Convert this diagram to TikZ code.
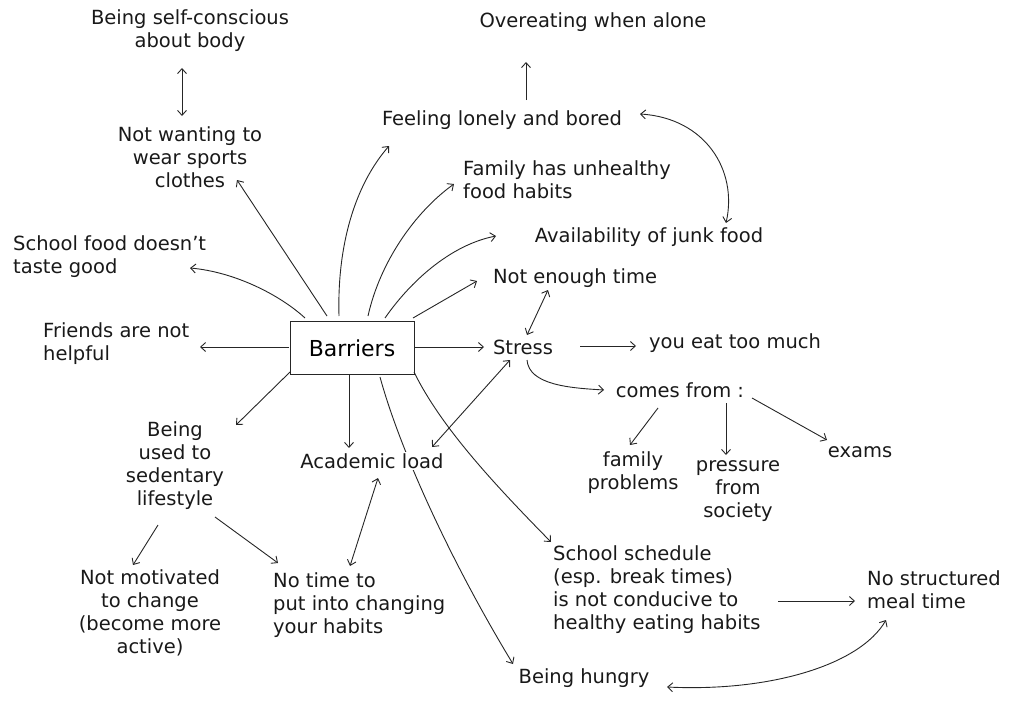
\documentclass[tikz,border=0pt]{standalone}
\usepackage{fontspec}
\setmainfont{DejaVu Sans}
\usetikzlibrary{arrows.meta}
\pgfdeclarelayer{behind}
\pgfsetlayers{behind,main}
\tikzset{
  lbl/.style={font=\fontsize{19.5}{23}\selectfont, inner sep=1pt, text=black!90},
  lblL/.style={lbl, align=left, anchor=west},
  lblC/.style={lbl, align=center},
  conn/.style={line width=0.9pt, draw=black!85, -{Straight Barb[length=5pt,width=9pt]}},
  dconn/.style={line width=0.9pt, draw=black!85, {Straight Barb[length=5pt,width=9pt]}-{Straight Barb[length=5pt,width=9pt]}},
  boxnode/.style={draw=black!85, line width=0.9pt, minimum width=124pt, minimum height=53pt, font=\fontsize{22}{24}\selectfont}
}
\begin{document}
\begin{tikzpicture}[x=1pt,y=-1pt]
\useasboundingbox (0,0) rectangle (1025,701);
% nodes
\node[lblC] (self) at (190,31) {Being self-conscious\\about body};
\node[lblC] (over) at (593,22) {Overeating when alone};
\node[lblC] (lonely) at (502,120) {Feeling lonely and bored};
\node[lblC] (notwant) at (190,157) {Not wanting to\\wear sports\\clothes};
\node[lblL] (family) at (462,180) {Family has unhealthy\\ food habits};
\node[lblC] (avail) at (649,237) {Availability of junk food};
\node[lblL] (schoolfood) at (12,257) {School food doesn't\\taste good};
\node[lblC] (enough) at (575,278) {Not enough time};
\node[lblL] (friends) at (42,344) {Friends are not\\helpful};
\node[boxnode] (barriers) at (352,348) {Barriers};
\node[lblC] (stress) at (523,347) {Stress};
\node[lblC] (eat) at (735,343) {you eat too much};
\node[lblC] (comes) at (680,390) {comes from :};
\node[lblC] (famprob) at (633,473) {family\\problems};
\node[lblC] (pressure) at (738,491) {pressure\\from\\society};
\node[lblC] (exams) at (860,452) {exams};
\node[lblC] (used) at (175,466) {Being\\used to\\sedentary\\lifestyle};
\node[lblC, fill=white] (academic) at (372,461) {Academic load};
\node[lblC] (notmot) at (150,613) {Not motivated\\to change\\(become more\\active)};
\node[lblL] (notimeto) at (272,605) {No time to\\put into changing\\your habits};
\node[lblL] (schedule) at (552,590) {School schedule\\(esp. break times)\\ is not conducive to\\ healthy eating habits};
\node[lblL] (nostruct) at (866,590) {No structured\\meal time};
\node[lblC] (hungry) at (584,678) {Being hungry};
% connectors
\draw[dconn] ([shift={(-8,37)}]self.center) -- ([shift={(-8,-41)}]notwant.center);
\draw[conn] ([shift={(24,-20)}]lonely.center) -- ([shift={(-67,40)}]over.center);
\draw[dconn] ([shift={(138,-6)}]lonely.center) .. controls (705,118) and (738,170) .. ([shift={(77,-14)}]avail.center);
\draw[conn] ([shift={(-47,-30)}]barriers.center) .. controls (280,295) and (235,272) .. ([shift={(178,11)}]schoolfood.west);
\draw[conn] ([shift={(-25,-32)}]barriers.center) -- ([shift={(47,23)}]notwant.center);
\draw[conn] ([shift={(-13,-32)}]barriers.center) .. controls (337,245) and (355,185) .. ([shift={(-113,26)}]lonely.center);
\draw[conn] ([shift={(16,-32)}]barriers.center) .. controls (380,262) and (415,212) .. ([shift={(-8,4)}]family.west);
\draw[conn] ([shift={(33,-30)}]barriers.center) .. controls (410,282) and (450,245) .. ([shift={(-153,-1)}]avail.center);
\draw[conn] ([shift={(61,-30)}]barriers.center) -- ([shift={(-98,3)}]enough.center);
\draw[conn] ([shift={(-63,-1)}]barriers.center) -- ([shift={(158,3)}]friends.west);
\draw[conn] ([shift={(63,-1)}]barriers.center) -- ([shift={(-39,0)}]stress.center);
\draw[dconn] ([shift={(-27,12)}]enough.center) -- ([shift={(4,-12)}]stress.center);
\draw[conn] ([shift={(57,-1)}]stress.center) -- ([shift={(-99,3)}]eat.center);
\draw[conn] ([shift={(4,13)}]stress.center) .. controls (529,385) and (570,388) .. ([shift={(-76,0)}]comes.center);
\draw[conn] ([shift={(-22,18)}]comes.center) -- ([shift={(-3,-28)}]famprob.center);
\draw[conn] ([shift={(46,13)}]comes.center) -- ([shift={(-12,-36)}]pressure.center);
\draw[conn] ([shift={(72,8)}]comes.center) -- ([shift={(-33,-12)}]exams.center);
\draw[conn] ([shift={(-62,24)}]barriers.center) -- ([shift={(61,-41)}]used.center);
\draw[conn] ([shift={(-3,27)}]barriers.center) -- ([shift={(-23,-13)}]academic.center);
\draw[dconn] ([shift={(-13,13)}]stress.center) -- ([shift={(60,-14)}]academic.center);
\draw[conn] ([shift={(-17,59)}]used.center) -- ([shift={(-17,-48)}]notmot.center);
\draw[conn] ([shift={(40,51)}]used.center) -- ([shift={(6,-42)}]notimeto.west);
\draw[dconn] ([shift={(78,-39)}]notimeto.west) -- ([shift={(6,17)}]academic.center);
\begin{pgfonlayer}{behind}
\draw[conn] ([shift={(28,29)}]barriers.center) .. controls (400,450) and (450,560) .. ([shift={(-71,-14)}]hungry.center);
\end{pgfonlayer}
\draw[conn] ([shift={(62,24)}]barriers.center) .. controls (440,425) and (490,480) .. ([shift={(-1,-48)}]schedule.west);
\draw[conn] ([shift={(226,11)}]schedule.west) -- ([shift={(-11,11)}]nostruct.west);
\draw[dconn] ([shift={(83,9)}]hungry.center) .. controls (770,692) and (860,665) .. ([shift={(20,30)}]nostruct.west);
\end{tikzpicture}
\end{document}
